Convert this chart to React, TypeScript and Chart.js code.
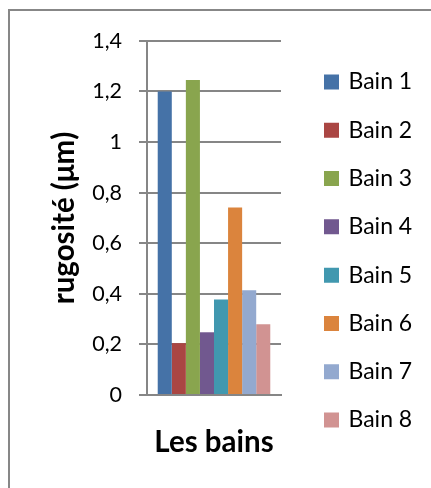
import React, { useEffect, useRef } from 'react';
import { Chart, registerables } from 'chart.js';

Chart.register(...registerables);

const categories = [''];
const seriesNames = ['Bain 1', 'Bain 2', 'Bain 3', 'Bain 4', 'Bain 5', 'Bain 6', 'Bain 7', 'Bain 8'];
const seriesValues = [1.2, 0.205, 1.245, 0.248, 0.378, 0.741, 0.414, 0.28];
const seriesColors = ['#4572A7', '#AA4643', '#89A54E', '#71588F', '#4198AF', '#DB843D', '#93A9CF', '#D19392'];
const yTicks = [0, 0.2, 0.4, 0.6, 0.8, 1, 1.2, 1.4];
const yTitle = 'rugosité (μm)';
const xTitle = 'Les bains';

const FONT = 'Lato, "Open Sans", sans-serif';
const GRID = '#868686';

const fmt = (v: number) => String(Number(v.toFixed(1))).replace('.', ',');

export default function App() {
  const ref = useRef<HTMLCanvasElement | null>(null);

  useEffect(() => {
    if (!ref.current) return;
    const chart = new Chart(ref.current, {
      type: 'bar',
      data: {
        labels: categories,
        datasets: seriesNames.map((name, i) => ({
          label: name,
          data: [seriesValues[i]],
          backgroundColor: seriesColors[i],
          borderWidth: 0,
          yAxisID: 'y',
          categoryPercentage: 0.84,
          barPercentage: 1,
        })),
      },
      options: {
        responsive: false,
        animation: false,
        layout: { padding: { top: 3, left: 0, right: 14.3, bottom: 0 } },
        plugins: {
          tooltip: { enabled: false },
          title: {
            display: true,
            text: '',
            font: { size: 10 },
            padding: { top: 0, bottom: 13.7 },
          },
          legend: {
            position: 'right',
            maxWidth: 116,
            labels: {
              boxWidth: 11,
              boxHeight: 11,
              padding: 25.3,
              color: '#000',
              font: { family: FONT, size: 23 },
              generateLabels: (c: any) =>
                Chart.defaults.plugins.legend.labels.generateLabels(c).map((l: any) => ({
                  ...l,
                  lineWidth: 4,
                  strokeStyle: l.fillStyle,
                })),
            },
          },
        },
        scales: {
          x: {
            type: 'category',
            grid: { display: false },
            border: { display: true, color: GRID, width: 2 },
            ticks: { display: false },
            title: {
              display: true,
              text: xTitle,
              color: '#000',
              font: { family: FONT, size: 29.5, weight: 'bold' },
              padding: { top: 0, bottom: 28.3 },
            },
            afterFit: (s: any) => {
              s.height = 93;
            },
          },
          y: {
            type: 'linear',
            position: 'left',
            min: 0,
            max: 1.4,
            afterBuildTicks: (s: any) => {
              s.ticks = yTicks.map((v) => ({ value: v }));
            },
            grid: { color: GRID, lineWidth: 2, tickLength: 8, drawTicks: true },
            border: { display: true, color: GRID, width: 2 },
            ticks: {
              padding: 17,
              color: '#000',
              font: { family: FONT, size: 21.5 },
              callback: (v: any) => fmt(Number(v)),
            },
            title: {
              display: true,
              text: yTitle,
              color: '#000',
              font: { family: FONT, size: 29.5, weight: 'bold' },
              padding: { top: 36.3, bottom: 0 },
            },
            afterFit: (s: any) => {
              s.width = 137;
            },
          },
          y2: {
            type: 'linear',
            position: 'right',
            display: true,
            grid: { display: false },
            border: { display: false },
            ticks: { display: false },
            afterFit: (s: any) => {
              s.width = 19.7;
            },
          },
        },
      },
    } as any);
    return () => chart.destroy();
  }, []);

  return (
    <div
      style={{
        position: 'fixed',
        left: 8,
        top: 9,
        width: 423,
        height: 479,
        boxSizing: 'border-box',
        borderTop: '2px solid #878787',
        borderLeft: '2px solid #878787',
        background: '#fff',
      }}
    >
      <canvas ref={ref} width={421} height={477} style={{ display: 'block' }} />
    </div>
  );
}
